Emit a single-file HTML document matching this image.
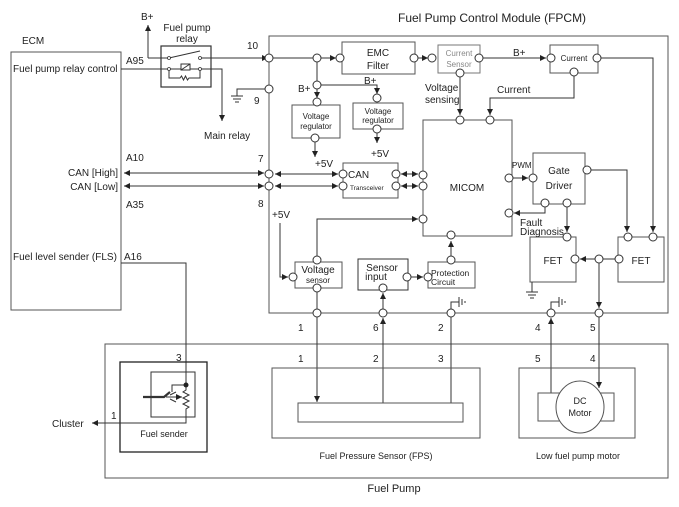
<!DOCTYPE html>
<html><head><meta charset="utf-8"><style>
html,body{margin:0;padding:0;background:#fff;}
svg{display:block;font-family:"Liberation Sans",Arial,sans-serif;}
text{fill:#222;}
</style></head><body>
<svg width="679" height="507" viewBox="0 0 679 507" xmlns="http://www.w3.org/2000/svg">
<defs>
<marker id="a" markerWidth="7" markerHeight="7" refX="6" refY="3" orient="auto" markerUnits="userSpaceOnUse"><path d="M0,0 L6,3 L0,6 z" fill="#222"/></marker>
<marker id="s" markerWidth="7" markerHeight="7" refX="0" refY="3" orient="auto" markerUnits="userSpaceOnUse"><path d="M6,0 L0,3 L6,6 z" fill="#222"/></marker>
</defs>
<g stroke="#333" stroke-width="1" fill="none">
<!-- main boxes -->
<rect x="269" y="36" width="399" height="277" stroke="#555"/>
<rect x="11" y="52" width="110" height="258" stroke="#555"/>
<rect x="105" y="344" width="563" height="134" stroke="#555"/>
<!-- relay -->
<rect x="161" y="46" width="50" height="41" stroke="#333" stroke-width="1.2"/>
<path d="M148,58 V25" marker-end="url(#a)"/>
<path d="M148,58 H169"/>
<path d="M169,58 L200,51"/>
<path d="M200,58 H268" marker-end="url(#a)"/>
<path d="M121,69 H169"/>
<path d="M169,69 H181 M190,69 H200"/>
<rect x="181" y="64" width="9" height="6"/>
<path d="M181,70 L190,64"/>
<path d="M169,69 V78 H180 l1.5,-2 l2,4 l2,-4 l2,4 l1.5,-2 H200 V69"/>
<path d="M200,69 H222 V121" marker-end="url(#a)"/>
<!-- ground 9 -->
<path d="M265,89 H237 V96 M231,96 H243 M233,99 H241 M235,102 H239"/>
<!-- CAN lines -->
<path d="M124,173 H264" marker-start="url(#s)" marker-end="url(#a)"/>
<path d="M124,186 H264" marker-start="url(#s)" marker-end="url(#a)"/>
<path d="M275,174 H338" marker-start="url(#s)" marker-end="url(#a)"/>
<path d="M275,186 H338" marker-start="url(#s)" marker-end="url(#a)"/>
<path d="M401,174 H418" marker-start="url(#s)" marker-end="url(#a)"/>
<path d="M401,186 H418" marker-start="url(#s)" marker-end="url(#a)"/>
<!-- FLS -->
<path d="M121,263 H186 V385"/>
<!-- top bus -->
<path d="M273,58 H313 M321,58 H335" />
<path d="M330,58 H336" marker-end="url(#a)"/>
<path d="M418,58 H428" marker-end="url(#a)"/>
<path d="M483,58 H546" marker-end="url(#a)"/>
<path d="M601,58 H653 V232" marker-end="url(#a)"/>
<path d="M317,62 V81 M321,85 H377 V94" marker-end="url(#a)"/>
<path d="M317,89 V98" marker-end="url(#a)"/>
<!-- regulators -->
<rect x="292" y="105" width="48" height="33" stroke="#555"/>
<rect x="353" y="103" width="50" height="26" stroke="#555"/>
<path d="M315,142 V157" marker-end="url(#a)"/>
<path d="M377,133 V143" marker-end="url(#a)"/>
<!-- EMC / current -->
<rect x="342" y="42" width="73" height="32" stroke="#555"/>
<rect x="438" y="45" width="42" height="28" stroke="#777"/>
<rect x="550" y="45" width="48" height="28" stroke="#555"/>
<path d="M460,77 V115" marker-end="url(#a)"/>
<path d="M574,76 V98 H490 V115" marker-end="url(#a)"/>
<!-- MICOM -->
<rect x="423" y="120" width="89" height="116" stroke="#555"/>
<rect x="343" y="163" width="55" height="35" stroke="#555"/>
<!-- +5V to voltage sensor -->
<path d="M280,223 V277 H288" marker-end="url(#a)"/>
<rect x="295" y="262" width="47" height="26" stroke="#555"/>
<path d="M317,256 V219 H418" marker-end="url(#a)"/>
<path d="M317,292 V309"/>
<rect x="358" y="259" width="50" height="31" stroke="#333"/>
<path d="M411,277 H423" marker-end="url(#a)"/>
<rect x="428" y="262" width="47" height="26" stroke="#555"/>
<path d="M383,309 V293" marker-end="url(#a)"/>
<path d="M451,256 V241" marker-end="url(#a)"/>
<!-- gate driver -->
<rect x="533" y="153" width="52" height="51" stroke="#555"/>
<path d="M513,178 H528" marker-end="url(#a)"/>
<path d="M591,170 H627 V232" marker-end="url(#a)"/>
<path d="M545,207 V213 H514" marker-end="url(#a)"/>
<path d="M567,207 V232" marker-end="url(#a)"/>
<rect x="530" y="237" width="46" height="45" stroke="#555"/>
<rect x="618" y="237" width="46" height="45" stroke="#555"/>
<path d="M615,259 H603 M595,259 H580" marker-end="url(#a)"/>
<path d="M599,263 V308" marker-end="url(#a)"/>
<path d="M532,282 V292 M526,292 H538 M528,295 H536 M530,298 H534"/>
<!-- ground symbols bottom -->
<path d="M451,309 V302 H459 M459,297 V307 M462,299 V305 M465,301 V303"/>
<path d="M551,309 V302 H559 M559,297 V307 M562,299 V305 M565,301 V303"/>
<!-- bottom connections -->
<path d="M317,317 V402" marker-end="url(#a)"/>
<path d="M383,403 V318" marker-end="url(#a)"/>
<path d="M451,317 V403"/>
<path d="M551,393 V318" marker-end="url(#a)"/>
<path d="M599,317 V388" marker-end="url(#a)"/>
<!-- FPS -->
<rect x="272" y="368" width="208" height="70" stroke="#555"/>
<rect x="298" y="403" width="165" height="19" stroke="#555"/>
<!-- motor -->
<rect x="519" y="368" width="116" height="70" stroke="#555"/>
<rect x="538" y="393" width="76" height="28" stroke="#555"/>
<ellipse cx="580" cy="407" rx="24" ry="26" fill="#fff" stroke="#555"/>
<!-- fuel sender -->
<rect x="120" y="362" width="87" height="90" stroke="#222" stroke-width="1.3"/>
<rect x="151" y="372" width="44" height="45" stroke="#333"/>
<path d="M186,385 H172 V392"/>
<path d="M186,385 V390 l-3,2 l6,3 l-6,3 l6,3 l-6,3 l6,3 l-3,2 V423 H92" marker-end="url(#a)"/>
<path d="M143,397 H164 L170,392" stroke-width="2.2"/>
<path d="M166,397 L182,397" marker-end="url(#a)"/>
<path d="M170,395 L176,392 M170,399 L176,402"/>
</g>
<circle cx="186" cy="385" r="2.5" fill="#222"/>
<!-- relay contact dots -->
<g fill="#fff" stroke="#333" stroke-width="0.8">
<circle cx="169" cy="58" r="1.5"/><circle cx="200" cy="58" r="1.5"/><circle cx="169" cy="69" r="1.5"/><circle cx="200" cy="69" r="1.5"/>
</g>
<!-- nodes -->
<g fill="#fff" stroke="#333" stroke-width="1">
<circle cx="269" cy="58" r="4"/><circle cx="269" cy="89" r="4"/><circle cx="269" cy="174" r="4"/><circle cx="269" cy="186" r="4"/>
<circle cx="317" cy="58" r="4"/><circle cx="317" cy="85" r="4"/><circle cx="340" cy="58" r="4"/><circle cx="414" cy="58" r="4"/>
<circle cx="432" cy="58" r="4"/><circle cx="479" cy="58" r="4"/><circle cx="460" cy="73" r="4"/>
<circle cx="551" cy="58" r="4"/><circle cx="597" cy="58" r="4"/><circle cx="574" cy="72" r="4"/>
<circle cx="317" cy="102" r="4"/><circle cx="315" cy="138" r="4"/><circle cx="377" cy="98" r="4"/><circle cx="377" cy="129" r="4"/>
<circle cx="460" cy="120" r="4"/><circle cx="490" cy="120" r="4"/>
<circle cx="343" cy="174" r="4"/><circle cx="343" cy="186" r="4"/><circle cx="396" cy="174" r="4"/><circle cx="396" cy="186" r="4"/>
<circle cx="423" cy="175" r="4"/><circle cx="423" cy="186" r="4"/><circle cx="423" cy="219" r="4"/>
<circle cx="509" cy="178" r="4"/><circle cx="509" cy="213" r="4"/><circle cx="451" cy="235" r="4"/>
<circle cx="533" cy="178" r="4"/><circle cx="587" cy="170" r="4"/><circle cx="545" cy="203" r="4"/><circle cx="567" cy="203" r="4"/>
<circle cx="567" cy="237" r="4"/><circle cx="575" cy="259" r="4"/><circle cx="599" cy="259" r="4"/><circle cx="619" cy="259" r="4"/>
<circle cx="628" cy="237" r="4"/><circle cx="653" cy="237" r="4"/>
<circle cx="293" cy="277" r="4"/><circle cx="317" cy="260" r="4"/><circle cx="317" cy="288" r="4"/>
<circle cx="407" cy="277" r="4"/><circle cx="383" cy="288" r="4"/><circle cx="428" cy="277" r="4"/><circle cx="451" cy="260" r="4"/>
<circle cx="317" cy="313" r="4"/><circle cx="383" cy="313" r="4"/><circle cx="451" cy="313" r="4"/><circle cx="551" cy="313" r="4"/><circle cx="599" cy="313" r="4"/>
</g>
<!-- text -->
<g font-size="10">
<text x="398" y="22" font-size="12">Fuel Pump Control Module (FPCM)</text>
<text x="22" y="44">ECM</text>
<text x="13" y="72">Fuel pump relay control</text>
<text x="126" y="64">A95</text>
<text x="141" y="20">B+</text>
<text x="187" y="31" text-anchor="middle">Fuel pump</text>
<text x="187" y="42" text-anchor="middle">relay</text>
<text x="247" y="49">10</text>
<text x="254" y="104">9</text>
<text x="204" y="139">Main relay</text>
<text x="126" y="161">A10</text>
<text x="118" y="176" text-anchor="end">CAN [High]</text>
<text x="118" y="190" text-anchor="end">CAN [Low]</text>
<text x="126" y="208">A35</text>
<text x="258" y="162">7</text>
<text x="258" y="207">8</text>
<text x="13" y="260">Fuel level sender (FLS)</text>
<text x="124" y="260">A16</text>
<text x="378" y="56" text-anchor="middle">EMC</text>
<text x="378" y="69" text-anchor="middle">Filter</text>
<text x="459" y="56" text-anchor="middle" font-size="8" fill="#888" style="fill:#888">Current</text>
<text x="459" y="67" text-anchor="middle" font-size="8" style="fill:#888">Sensor</text>
<text x="513" y="56">B+</text>
<text x="574" y="61" text-anchor="middle" font-size="8">Current</text>
<text x="298" y="92">B+</text>
<text x="364" y="84">B+</text>
<text x="316" y="119" text-anchor="middle" font-size="8">Voltage</text>
<text x="316" y="129" text-anchor="middle" font-size="8">regulator</text>
<text x="378" y="114" text-anchor="middle" font-size="8">Voltage</text>
<text x="378" y="123" text-anchor="middle" font-size="8">regulator</text>
<text x="315" y="167">+5V</text>
<text x="371" y="157">+5V</text>
<text x="425" y="91">Voltage</text>
<text x="425" y="103">sensing</text>
<text x="497" y="93">Current</text>
<text x="467" y="191" text-anchor="middle">MICOM</text>
<text x="348" y="178">CAN</text>
<text x="350" y="190" font-size="6.5">Transceiver</text>
<text x="512" y="168" font-size="8">PWM</text>
<text x="559" y="174" text-anchor="middle">Gate</text>
<text x="559" y="189" text-anchor="middle">Driver</text>
<text x="520" y="226">Fault</text>
<text x="520" y="235">Diagnosis</text>
<text x="553" y="264" text-anchor="middle">FET</text>
<text x="641" y="264" text-anchor="middle">FET</text>
<text x="272" y="218">+5V</text>
<text x="318" y="273" text-anchor="middle">Voltage</text>
<text x="318" y="283" text-anchor="middle" font-size="8">sensor</text>
<text x="382" y="271" text-anchor="middle">Sensor</text>
<text x="376" y="280" text-anchor="middle">input</text>
<text x="431" y="276" font-size="8.5">Protection</text>
<text x="431" y="285" font-size="8.5">Circuit</text>
<text x="298" y="331">1</text><text x="373" y="331">6</text><text x="438" y="331">2</text><text x="535" y="331">4</text><text x="590" y="331">5</text>
<text x="298" y="362">1</text><text x="373" y="362">2</text><text x="438" y="362">3</text><text x="535" y="362">5</text><text x="590" y="362">4</text>
<text x="176" y="361">3</text>
<text x="111" y="419">1</text>
<text x="52" y="427">Cluster</text>
<text x="164" y="437" text-anchor="middle" font-size="9">Fuel sender</text>
<text x="376" y="459" text-anchor="middle" font-size="9">Fuel Pressure Sensor (FPS)</text>
<text x="578" y="459" text-anchor="middle" font-size="9">Low fuel pump motor</text>
<text x="580" y="404" text-anchor="middle" font-size="9">DC</text>
<text x="580" y="416" text-anchor="middle" font-size="9">Motor</text>
<text x="394" y="492" text-anchor="middle" font-size="11">Fuel Pump</text>
</g>
</svg>
</body></html>
